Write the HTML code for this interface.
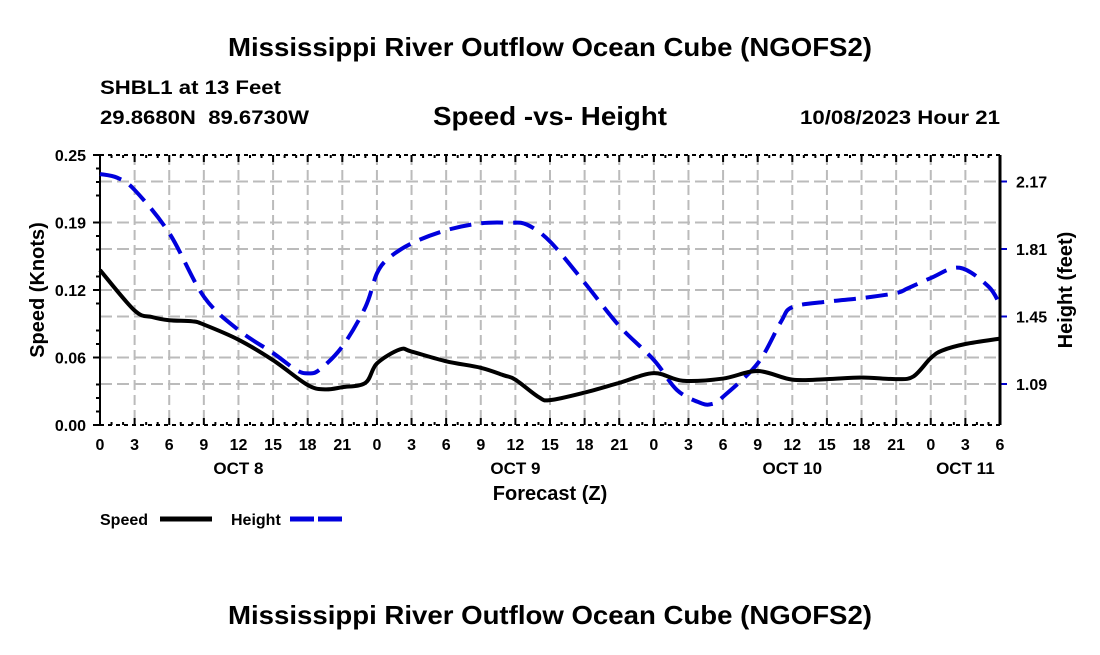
<!DOCTYPE html>
<html><head><meta charset="utf-8"><style>
body{margin:0;background:#fff;}
svg text{font-family:"Liberation Sans",Arial,sans-serif;font-weight:bold;fill:#000;white-space:pre;}
</style></head><body>
<svg id="chart" width="1100" height="650" viewBox="0 0 1100 650" xmlns="http://www.w3.org/2000/svg">
<text x="228" y="56" font-size="26" textLength="644" lengthAdjust="spacingAndGlyphs">Mississippi River Outflow Ocean Cube (NGOFS2)</text>
<text x="100" y="94" font-size="19" textLength="181" lengthAdjust="spacingAndGlyphs">SHBL1 at 13 Feet</text>
<text x="100" y="124" font-size="19" textLength="209" lengthAdjust="spacingAndGlyphs">29.8680N  89.6730W</text>
<text x="433" y="125" font-size="26" textLength="234" lengthAdjust="spacingAndGlyphs">Speed -vs- Height</text>
<text x="800" y="124" font-size="19" textLength="200" lengthAdjust="spacingAndGlyphs">10/08/2023 Hour 21</text>
<g id="grid"></g>
<g id="axes"></g>
<g id="series"></g>
<text transform="translate(44,290) rotate(-90)" font-size="20" text-anchor="middle">Speed (Knots)</text>
<text transform="translate(1072,290) rotate(-90)" font-size="20" text-anchor="middle">Height (feet)</text>
<text x="550" y="500" font-size="20" text-anchor="middle">Forecast (Z)</text>
<g>
<text x="100" y="525" font-size="16">Speed</text>
<line x1="160" y1="519" x2="212" y2="519" stroke="#000" stroke-width="5"/>
</g>
<g>
<text x="231" y="525" font-size="16">Height</text>
<line x1="290" y1="519" x2="342" y2="519" stroke="#0000dd" stroke-width="5" stroke-dasharray="24 4"/>
</g>
<text x="228" y="624" font-size="26" textLength="644" lengthAdjust="spacingAndGlyphs">Mississippi River Outflow Ocean Cube (NGOFS2)</text>
</svg>
<script>
const speedHours=[0,3,4.5,6,8,9,12,15,18,19.5,21,23,24,26,27,30,33,35,36,38,39,42,45,48,50.5,54,57,60,63,66,69,70.5,72,73,75,78];
const speedValues=[0.1435,0.106,0.1,0.097,0.096,0.093,0.079,0.06,0.037,0.033,0.035,0.039,0.057,0.07,0.068,0.059,0.053,0.046,0.042,0.026,0.023,0.03,0.039,0.048,0.041,0.043,0.05,0.042,0.0425,0.044,0.0425,0.045,0.062,0.069,0.075,0.08];
const heightHours=[0,1.5,3,6,9,12,15,17,18,19,21,23,24,25,27,30,33,35.5,37,39,42,45,48,50,52,53,54,57,59,60,63,66,69,70,72,74.5,77,78];
const heightValues=[2.21,2.19,2.125,1.895,1.556,1.378,1.255,1.165,1.147,1.165,1.29,1.5,1.68,1.76,1.84,1.91,1.947,1.95,1.94,1.85,1.63,1.4,1.218,1.058,0.99,0.983,1.022,1.2,1.42,1.5,1.529,1.548,1.575,1.6,1.655,1.71,1.61,1.51];
const xTickLabels=["0","3","6","9","12","15","18","21","0","3","6","9","12","15","18","21","0","3","6","9","12","15","18","21","0","3","6"];
const dayLabels=["OCT 8","OCT 9","OCT 10","OCT 11"];
const dayLabelHours=[12,36,60,75];
const speedTicks=[0,0.0625,0.125,0.1875,0.25];
const speedTickLabels=["0.00","0.06","0.12","0.19","0.25"];
const heightTicks=[1.09,1.45,1.81,2.17];
const heightTickLabels=["1.09","1.45","1.81","2.17"];

const L=100,R=1000,T=155,B=425;
const xS=h=>L+(h/78)*(R-L);
const ySpeed=v=>B-(v/0.25)*(B-T);
const yHeight=v=>384-(v-1.09)/0.36*67.5;
const NS="http://www.w3.org/2000/svg";
function mk(tag,attrs,parent){const e=document.createElementNS(NS,tag);for(const k in attrs)e.setAttribute(k,attrs[k]);parent.appendChild(e);return e;}
const grid=document.getElementById('grid'),axes=document.getElementById('axes'),series=document.getElementById('series');
xTickLabels.forEach((lab,i)=>{
  const x=xS(i*3);
  if(i>0&&i<xTickLabels.length-1){const g=mk('line',{x1:x,y1:T,x2:x,y2:B,stroke:'#bbb','stroke-width':2,'stroke-dasharray':'10 5'},grid);
  
  }
  mk('line',{x1:x,y1:B,x2:x,y2:B-7,stroke:'#000','stroke-width':2},axes);
  mk('line',{x1:x,y1:T,x2:x,y2:T+7,stroke:'#000','stroke-width':2},axes);
  const t=mk('text',{x:x,y:450,'font-size':16,'text-anchor':'middle'},axes);t.textContent=lab;
  
  
});
for(let h=1;h<78;h++){if(h%3){const x=xS(h);mk('line',{x1:x,y1:B,x2:x,y2:B-3,stroke:'#000','stroke-width':2},axes);mk('line',{x1:x,y1:T,x2:x,y2:T+3,stroke:'#000','stroke-width':2},axes);}}
dayLabels.forEach((d,i)=>{const t=mk('text',{x:xS(dayLabelHours[i]),y:474,'font-size':17,'text-anchor':'middle'},axes);t.textContent=d;
  
  });
speedTicks.forEach((v,i)=>{const y=ySpeed(v);
  if(i>0&&i<speedTicks.length-1){const g=mk('line',{x1:L,y1:y,x2:R,y2:y,stroke:'#bbb','stroke-width':2,'stroke-dasharray':'12 5'},grid);
  
  }
  mk('line',{x1:L-7,y1:y,x2:L,y2:y,stroke:'#000','stroke-width':2},axes);
  const t=mk('text',{x:L-14,y:y+6,'font-size':16,'text-anchor':'end'},axes);t.textContent=speedTickLabels[i];
  
  });
for(let k=1;k<20;k++){if(k%4){const y=B-k*(B-T)/20;mk('line',{x1:L-4,y1:y,x2:L,y2:y,stroke:'#000','stroke-width':2},axes);}}
heightTicks.forEach((v,i)=>{const y=yHeight(v);
  const g=mk('line',{x1:L,y1:y,x2:R,y2:y,stroke:'#bbb','stroke-width':2,'stroke-dasharray':'12 5'},grid);
  
  
  mk('line',{x1:R,y1:y,x2:R+7,y2:y,stroke:'#0000cc','stroke-width':2},axes);
  const t=mk('text',{x:R+16,y:y+6,'font-size':16},axes);t.textContent=heightTickLabels[i];
  
  });
mk('line',{x1:L,y1:T,x2:R,y2:T,stroke:'#000','stroke-width':2,'stroke-dasharray':'4 4'},axes);
mk('line',{x1:L,y1:B,x2:R,y2:B,stroke:'#000','stroke-width':2,'stroke-dasharray':'4 4'},axes);
mk('line',{x1:L,y1:T,x2:L,y2:B,stroke:'#000','stroke-width':2},axes);
mk('line',{x1:R,y1:T,x2:R,y2:B,stroke:'#000','stroke-width':3},axes);
function smooth(pts){let d=`M${pts[0][0]},${pts[0][1]}`;
  for(let i=0;i<pts.length-1;i++){const p0=pts[i-1]||pts[i],p1=pts[i],p2=pts[i+1],p3=pts[i+2]||p2;
    d+=` C${p1[0]+(p2[0]-p0[0])/6},${p1[1]+(p2[1]-p0[1])/6} ${p2[0]-(p3[0]-p1[0])/6},${p2[1]-(p3[1]-p1[1])/6} ${p2[0]},${p2[1]}`;}
  return d;}
const hp=mk('path',{d:smooth(heightHours.map((h,i)=>[xS(h),yHeight(heightValues[i])])),fill:'none',stroke:'#0000dd','stroke-width':4,'stroke-dasharray':'22 10'},series);


const sp=mk('path',{d:smooth(speedHours.map((h,i)=>[xS(h),ySpeed(speedValues[i])])),fill:'none',stroke:'#000','stroke-width':4},series);


</script>
</body></html>
